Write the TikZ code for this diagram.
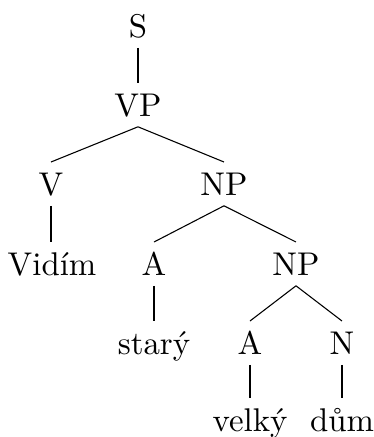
\documentclass[tikz,border=0pt]{standalone}
\usepackage{fontspec}
\begin{document}
\begin{tikzpicture}[
  x=0.3333pt, y=-0.3333pt,
  lbl/.style={anchor=base, inner xsep=0pt, inner ysep=3.4pt,
              text height=7.4pt, text depth=0pt, font=\fontsize{10.95}{13}\selectfont},
  branch/.style={line width=0.36pt}
]
\useasboundingbox (0,0) rectangle (373,437);

% labels of the tree, placed by their baselines
\node[lbl] (s)     at (138,37)  {S};
\node[lbl] (vp)    at (138,116) {VP};
\node[lbl] (v)     at (51,195)  {V};
\node[lbl] (np1)   at (224,195) {NP};
\node[lbl] (vidim) at (52,275)  {Vidím};
\node[lbl] (a1)    at (154,275) {A};
\node[lbl] (np2)   at (296,275) {NP};
\node[lbl] (stary) at (154,354) {starý};
\node[lbl] (a2)    at (250,354) {A};
\node[lbl] (n)     at (342,354) {N};
\node[lbl] (velky) at (250,431) {velký};
\node[lbl] (dum)   at (342,431) {dům};

% branches
\draw[branch] (s.south)   -- (vp.north);
\draw[branch] (vp.south)  -- (v.north);
\draw[branch] (vp.south)  -- (np1.north);
\draw[branch] (v.south)   -- (v.south |- vidim.north);
\draw[branch] (np1.south) -- (a1.north);
\draw[branch] (np1.south) -- (np2.north);
\draw[branch] (a1.south)  -- (a1.south |- stary.north);
\draw[branch] (np2.south) -- (a2.north);
\draw[branch] (np2.south) -- (n.north);
\draw[branch] (a2.south)  -- (a2.south |- velky.north);
\draw[branch] (n.south)   -- (n.south |- dum.north);
\end{tikzpicture}
\end{document}
